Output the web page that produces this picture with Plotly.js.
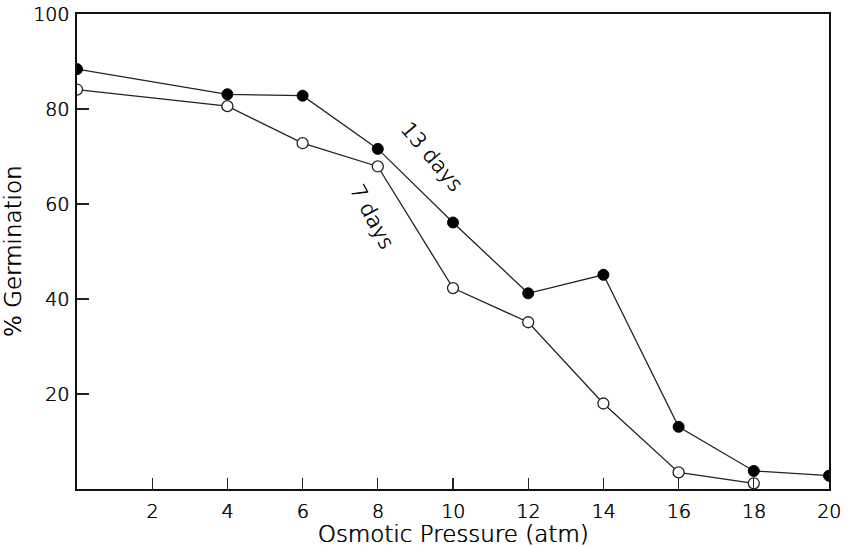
<!DOCTYPE html>
<html>
<head>
<meta charset="utf-8">
<script src="https://cdn.plot.ly/plotly-3.0.1.min.js"></script>
<style>html,body{margin:0;padding:0;background:#fff;}#chart{width:848px;height:547px;}</style>
</head>
<body>
<div id="chart"></div>
<script>
var days7X = [0, 4, 6, 8, 10, 12, 14, 16, 18];
var days7Y = [84.1, 80.6, 72.8, 67.9, 42.3, 35.1, 18.0, 3.5, 1.2];
var days13X = [0, 4, 6, 8, 10, 12, 14, 16, 18, 20];
var days13Y = [88.4, 83.1, 82.8, 71.6, 56.1, 41.2, 45.1, 13.1, 3.8, 2.8];
var xTicks = [2, 4, 6, 8, 10, 12, 14, 16, 18, 20];
var yTicks = [20, 40, 60, 80, 100];

var font = "'DejaVu Sans', sans-serif";
var w = 200;
var txt = '#000';
var sh = '0.6px 0 0 #000';

var traces = [
  {x: days7X, y: days7Y, mode: 'lines+markers', name: '7 days',
   line: {color: '#222', width: 1.3},
   marker: {symbol: 'circle', size: 11, color: '#fff', line: {color: '#222', width: 1.3}}},
  {x: days13X, y: days13Y, mode: 'lines+markers', name: '13 days',
   line: {color: '#222', width: 1.3},
   marker: {symbol: 'circle', size: 11, color: '#000', line: {color: '#000', width: 1}}}
];

var layout = {
  width: 848, height: 547,
  margin: {l: 77, r: 19, t: 14, b: 58},
  paper_bgcolor: '#fff', plot_bgcolor: '#fff',
  showlegend: false,
  font: {family: font, color: txt, size: 19, weight: w, shadow: sh},
  xaxis: {
    range: [0, 20], tickvals: xTicks, ticktext: xTicks.map(String),
    ticks: 'inside', ticklen: 11, tickwidth: 1.3, tickcolor: '#222',
    showline: true, linecolor: '#111', linewidth: 2, mirror: true,
    showgrid: false, zeroline: false, ticklabelstandoff: 4,
    tickfont: {size: 19, family: font, weight: w, color: txt, shadow: sh},
    title: {text: 'Osmotic Pressure (atm)', font: {size: 23, family: font, weight: w, color: txt, shadow: sh}, standoff: 4}
  },
  yaxis: {
    range: [0, 100], tickvals: yTicks, ticktext: yTicks.map(String),
    ticks: 'inside', ticklen: 12, tickwidth: 1.3, tickcolor: '#222',
    showline: true, linecolor: '#111', linewidth: 2, mirror: true,
    showgrid: false, zeroline: false, ticklabelstandoff: 2,
    tickfont: {size: 19, family: font, weight: w, color: txt, shadow: sh},
    title: {text: '% Germination', font: {size: 23, family: font, weight: w, color: txt, shadow: sh}, standoff: 10}
  },
  annotations: [
    {x: 9.44, y: 69.9, xref: 'x', yref: 'y', text: '13 days', showarrow: false,
     textangle: 50, font: {size: 21, family: font, color: txt, weight: w, shadow: sh}},
    {x: 7.85, y: 57.3, xref: 'x', yref: 'y', text: '7 days', showarrow: false,
     textangle: 62, font: {size: 21, family: font, color: txt, weight: w, shadow: sh}}
  ]
};

Plotly.newPlot('chart', traces, layout, {displayModeBar: false, staticPlot: true});
</script>
</body>
</html>
